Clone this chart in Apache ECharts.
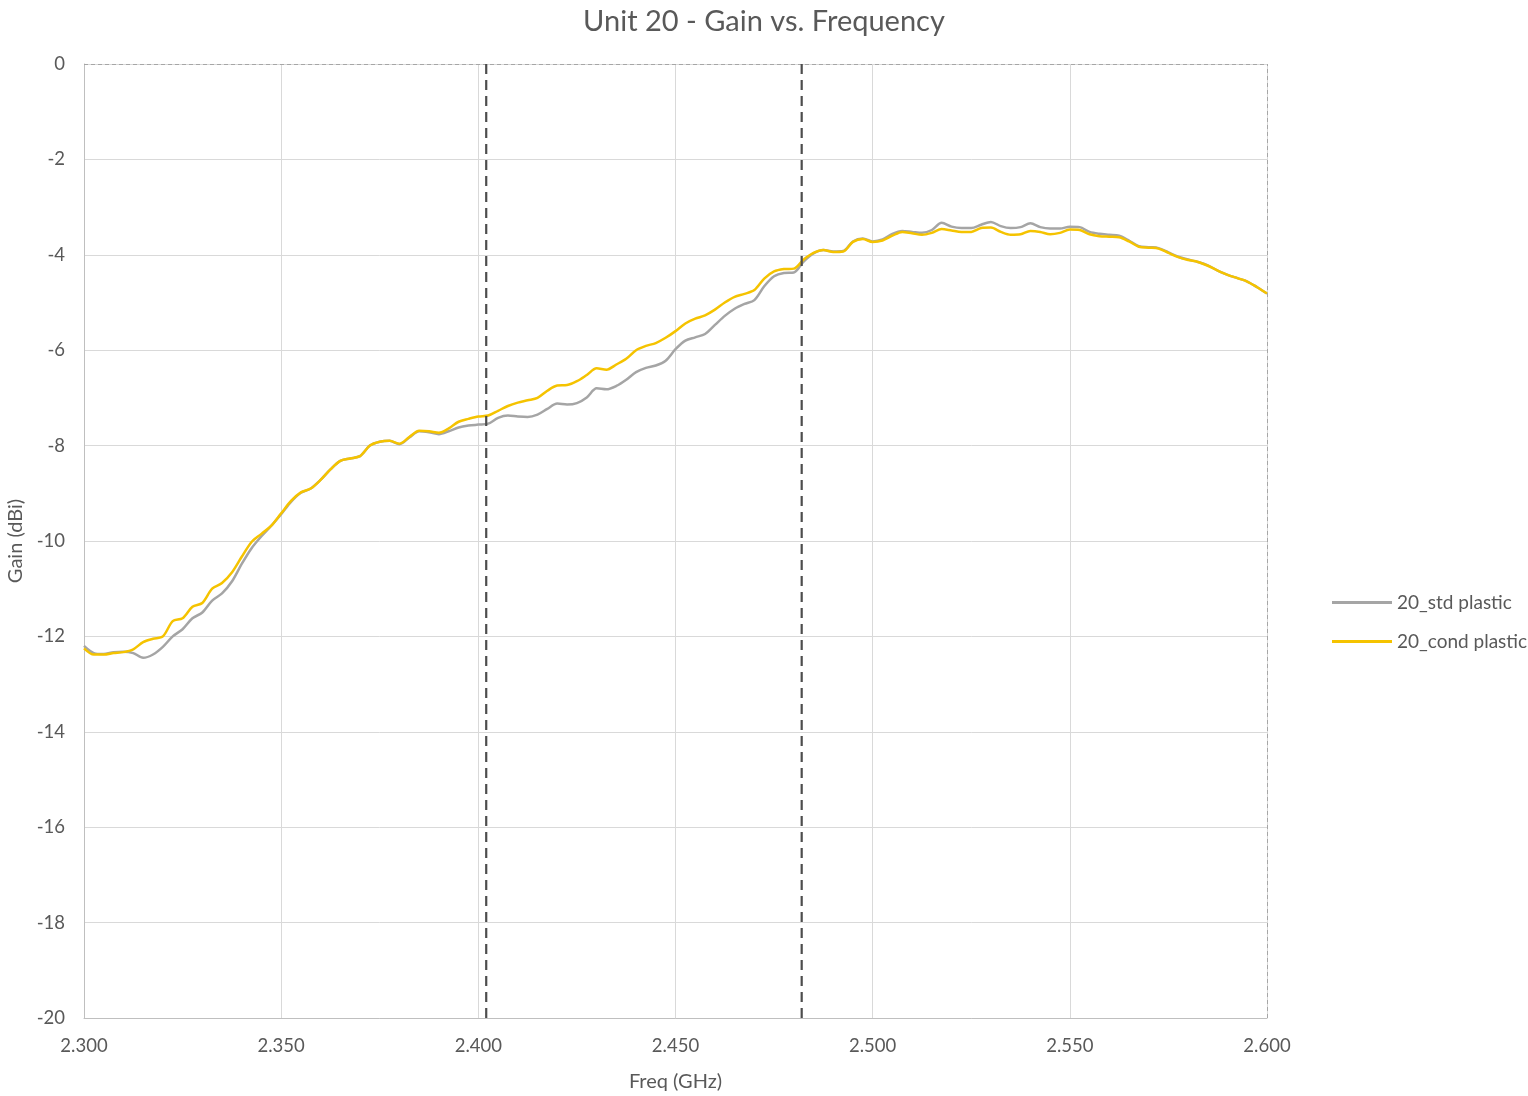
<!DOCTYPE html>
<html>
<head>
<meta charset="utf-8">
<title>Unit 20 - Gain vs. Frequency</title>
<script src="https://cdn.jsdelivr.net/npm/echarts@6/dist/echarts.min.js"></script>
<style>
  html, body { margin: 0; padding: 0; background: #fff; }
  #chart { width: 1528px; height: 1096px; }
</style>
</head>
<body>
<div id="chart"></div>
<script>
// sweep: 2.300 .. 2.600 GHz, one reading every 2.5 MHz
const freqStart = 2.3;
const freqStep = 0.0025;

const stdPlastic = [
  -12.2, -12.35, -12.37, -12.33, -12.32, -12.35, -12.45, -12.38, -12.22, -12.0,
  -11.85, -11.62, -11.5, -11.25, -11.1, -10.85, -10.48, -10.15, -9.9, -9.68,
  -9.44, -9.18, -8.99, -8.9, -8.72, -8.5, -8.32, -8.27, -8.22, -8.0,
  -7.92, -7.9, -7.97, -7.83, -7.7, -7.72, -7.76, -7.7, -7.62, -7.58,
  -7.56, -7.54, -7.42, -7.37, -7.39, -7.4, -7.35, -7.23, -7.12, -7.14,
  -7.11, -6.99, -6.8, -6.82, -6.75, -6.62, -6.46, -6.37, -6.32, -6.22,
  -5.98, -5.8, -5.73, -5.66, -5.47, -5.28, -5.13, -5.03, -4.95, -4.66,
  -4.45, -4.38, -4.37, -4.14, -3.97, -3.9, -3.93, -3.92, -3.72, -3.66,
  -3.72, -3.68, -3.56, -3.5, -3.52, -3.54, -3.48, -3.33, -3.41, -3.44,
  -3.44, -3.37, -3.31, -3.4, -3.44, -3.42, -3.34, -3.42, -3.45, -3.45,
  -3.41, -3.42, -3.52, -3.56, -3.58, -3.6, -3.7, -3.82, -3.84, -3.86,
  -3.95, -4.04, -4.1, -4.15, -4.22, -4.33, -4.42, -4.49, -4.56, -4.68,
  -4.81
];

const condPlastic = [
  -12.25, -12.38, -12.38, -12.35, -12.33, -12.27, -12.12, -12.05, -12.0, -11.68,
  -11.62, -11.38, -11.3, -11.0, -10.88, -10.66, -10.33, -10.02, -9.85, -9.68,
  -9.42, -9.16, -8.98, -8.9, -8.72, -8.5, -8.32, -8.27, -8.22, -8.0,
  -7.92, -7.9, -7.96, -7.82, -7.69, -7.7, -7.73, -7.64, -7.5, -7.44,
  -7.39, -7.37, -7.27, -7.17, -7.1, -7.05, -7.0, -6.85, -6.74, -6.73,
  -6.65, -6.52, -6.38, -6.41, -6.3, -6.18, -6.0, -5.91, -5.85, -5.74,
  -5.6, -5.44, -5.34, -5.27, -5.15, -5.0, -4.88, -4.82, -4.74, -4.5,
  -4.35, -4.3, -4.29, -4.1, -3.96, -3.9, -3.94, -3.93, -3.73, -3.67,
  -3.73, -3.7, -3.6, -3.52, -3.55, -3.58, -3.54, -3.46, -3.49, -3.52,
  -3.52, -3.44, -3.43, -3.52, -3.58, -3.57, -3.5, -3.52, -3.57, -3.54,
  -3.47, -3.48, -3.57, -3.61, -3.62, -3.63, -3.72, -3.83, -3.85, -3.87,
  -3.96, -4.05, -4.11, -4.15, -4.23, -4.33, -4.42, -4.49, -4.56, -4.68,
  -4.81
];

const seriesNames = ['20_std plastic', '20_cond plastic'];
const bandEdges = [2.402, 2.482];
const gainRange = [-20, 0];

const freqs = stdPlastic.map((_, i) => +(freqStart + i * freqStep).toFixed(4));
const pairs = (vals) => vals.map((v, i) => [freqs[i], v]);

const textColor = '#595959';
const fontFamily = 'Lato, "Open Sans", sans-serif';

// band edge markers: plain vertical dashed lines, kept out of the legend
const edgeSeries = bandEdges.map((f, i) => ({
  name: 'edge' + i,
  type: 'line',
  data: gainRange.map((g) => [f, g]),
  showSymbol: false,
  silent: true,
  lineStyle: { color: '#4d4d4d', width: 2.2, type: [10, 6] },
  z: 5
}));

const chart = echarts.init(document.getElementById('chart'));

chart.setOption({
  backgroundColor: '#fff',
  animation: false,
  textStyle: { fontFamily: fontFamily, color: textColor },
  title: {
    text: 'Unit 20 - Gain vs. Frequency',
    left: 'center',
    top: 2,
    textStyle: { fontSize: 29, fontWeight: 'normal', color: textColor, fontFamily: fontFamily }
  },
  grid: { left: 84, right: 261, top: 64, bottom: 78, outerBoundsMode: 'none', containLabel: false },
  legend: {
    orient: 'vertical',
    left: 1327,
    top: 588,
    icon: 'rect',
    itemWidth: 60,
    itemHeight: 3,
    itemGap: 20,
    textStyle: { fontSize: 19, color: textColor, fontFamily: fontFamily },
    data: seriesNames
  },
  xAxis: {
    type: 'value',
    min: 2.3,
    max: 2.6,
    interval: 0.05,
    name: 'Freq (GHz)',
    nameLocation: 'middle',
    nameGap: 54,
    nameTextStyle: { fontSize: 20, color: textColor },
    axisLine: { show: true, onZero: false, lineStyle: { color: '#bfbfbf', width: 1 } },
    axisTick: { show: false },
    axisLabel: { fontSize: 18.5, color: textColor, margin: 19, formatter: (v) => v.toFixed(3) },
    splitLine: { show: true, lineStyle: { color: '#d9d9d9', width: 1 } }
  },
  yAxis: {
    type: 'value',
    min: -20,
    max: 0,
    interval: 2,
    name: 'Gain (dBi)',
    nameLocation: 'middle',
    nameGap: 57,
    nameTextStyle: { fontSize: 20, color: textColor },
    axisLine: { show: true, onZero: false, lineStyle: { color: '#bfbfbf', width: 1 } },
    axisTick: { show: false },
    axisLabel: { fontSize: 18.5, color: textColor, margin: 19 },
    splitLine: { show: true, lineStyle: { color: '#d9d9d9', width: 1 } }
  },
  series: [
    {
      name: seriesNames[0],
      type: 'line',
      data: pairs(stdPlastic),
      showSymbol: false,
      smooth: 0.3,
      color: '#a5a5a5',
      lineStyle: { color: '#a5a5a5', width: 2.5 },
      z: 3,
      markLine: {
        silent: true,
        symbol: 'none',
        label: { show: false },
        lineStyle: { color: '#a6a6a6', width: 1, type: [4, 3] },
        data: [{ yAxis: 0 }, { xAxis: 2.6 }]
      }
    },
    {
      name: seriesNames[1],
      type: 'line',
      data: pairs(condPlastic),
      showSymbol: false,
      smooth: 0.3,
      color: '#f5c300',
      lineStyle: { color: '#f5c300', width: 2.5 },
      z: 4
    }
  ].concat(edgeSeries)
});
</script>
</body>
</html>
